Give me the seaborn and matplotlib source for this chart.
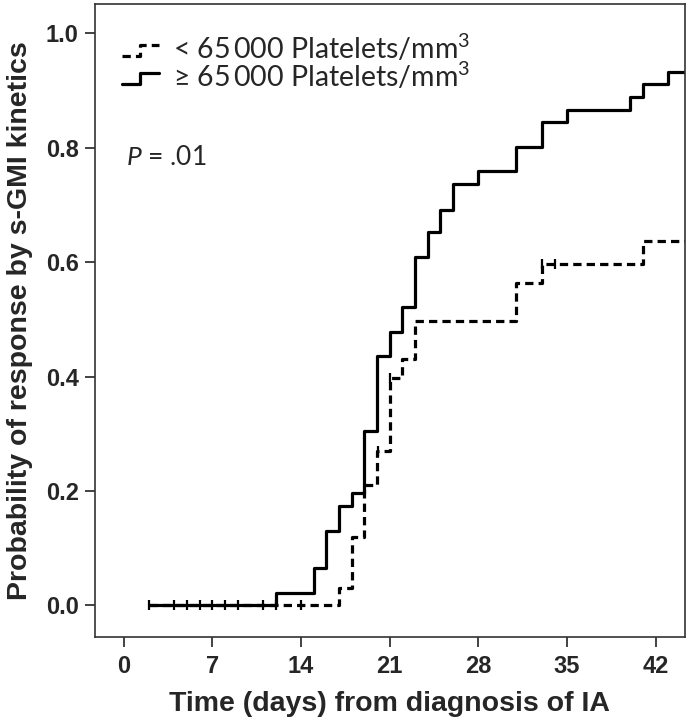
import numpy as np
import pandas as pd
import matplotlib
matplotlib.use("Agg")
import matplotlib.pyplot as plt
import seaborn as sns
from matplotlib.legend_handler import HandlerBase
from matplotlib.lines import Line2D

# ----------- data -----------
hi_days = [2, 12, 15, 16, 17, 18, 19, 20, 21, 22, 23, 24, 25, 26, 28, 31, 33, 35, 40, 41, 43, 45]
hi_prob = [0, 0.022, 0.065, 0.130, 0.174, 0.196, 0.304, 0.435, 0.478, 0.522, 0.609, 0.652,
           0.692, 0.737, 0.759, 0.802, 0.845, 0.867, 0.889, 0.911, 0.933, 0.933]
hi_censored = [2, 4, 5, 6, 7, 8, 9, 11]

lo_days = [2, 17, 18, 19, 20, 21, 22, 23, 31, 33, 41, 45]
lo_prob = [0, 0.030, 0.120, 0.210, 0.270, 0.397, 0.430, 0.497, 0.563, 0.597, 0.637, 0.637]
lo_censored = [12, 14, 20.05, 21, 33.05, 34.05]

x_ticks = [0, 7, 14, 21, 28, 35, 42]
y_ticks = [0.0, 0.2, 0.4, 0.6, 0.8, 1.0]

lo_label = "< 65\u2009000 Platelets/mm$^{3}$"
hi_label = "\u2265 65\u2009000 Platelets/mm$^{3}$"

sns.set_theme(style="white")
plt.rcParams['font.family'] = ['Lato', 'DejaVu Sans']
plt.rcParams['mathtext.fontset'] = 'custom'
plt.rcParams['mathtext.rm'] = 'Lato'
plt.rcParams['mathtext.it'] = 'Lato:italic'
bold_font = ['Liberation Sans', 'DejaVu Sans']


def level_at(days, prob, t):
    idx = np.searchsorted(days, t, side='right') - 1
    return np.array(prob)[idx]


class StepHandler(HandlerBase):
    # little step icon like the SPSS legend
    def create_artists(self, legend, orig_handle, xdescent, ydescent, width, height,
                       fontsize, trans):
        x0 = -xdescent
        xm = x0 + width * 0.5
        lo_y = -ydescent + height * 0.15
        hi_y = -ydescent + height * 0.7
        line = Line2D([x0, xm, xm, x0 + width], [lo_y, lo_y, hi_y, hi_y])
        line.update_from(orig_handle)
        line.set_drawstyle("default")
        line.set_transform(trans)
        return [line]


curves = pd.concat([
    pd.DataFrame({"day": lo_days, "prob": lo_prob, "group": lo_label}),
    pd.DataFrame({"day": hi_days, "prob": hi_prob, "group": hi_label}),
])
cens = pd.concat([
    pd.DataFrame({"day": lo_censored, "prob": level_at(lo_days, lo_prob, lo_censored)}),
    pd.DataFrame({"day": hi_censored, "prob": level_at(hi_days, hi_prob, hi_censored)}),
])

fig = plt.figure(figsize=(6.91, 7.2), dpi=100)
ax = fig.add_axes([0.137, 0.115, 0.854, 0.879])

lo = curves[curves.group == lo_label]
hi = curves[curves.group == hi_label]
sns.lineplot(data=lo, x="day", y="prob", estimator=None, sort=False, drawstyle="steps-post",
             color="black", linewidth=2.3, ax=ax, legend=False)
lo_line = ax.lines[-1]
lo_line.set_dashes((2.6, 1.6))
sns.lineplot(data=hi, x="day", y="prob", estimator=None, sort=False, drawstyle="steps-post",
             color="black", linewidth=2.3, ax=ax, legend=False)
hi_line = ax.lines[-1]
sns.scatterplot(data=cens, x="day", y="prob", marker="|", s=55, color="black",
                linewidth=1.6, ax=ax, zorder=5)

ax.set_xlim(-2.3, 44.3)
ax.set_ylim(-0.056, 1.051)
ax.set_xticks(x_ticks)
ax.set_yticks(y_ticks)
ax.set_yticklabels([f"{v:.1f}" for v in y_ticks])
for lab in ax.get_xticklabels() + ax.get_yticklabels():
    lab.set_family(bold_font)
    lab.set_fontweight("bold")
    lab.set_fontsize(17)
ax.tick_params(axis="both", direction="out", length=7.5, width=1.2, color="#222222",
               bottom=True, left=True, pad=4)
ax.tick_params(axis="x", pad=5)
for sp in ax.spines.values():
    sp.set_color("#333333")
    sp.set_linewidth(1.2)

ax.set_xlabel("Time (days) from diagnosis of IA", family=bold_font, fontweight="bold",
              fontsize=20.5, labelpad=10)
ax.set_ylabel("Probability of response by s-GMI kinetics", family=bold_font,
              fontweight="bold", fontsize=20.5, labelpad=9)

ax.legend([lo_line, hi_line], [lo_label, hi_label],
          handler_map={Line2D: StepHandler()},
          loc="upper left", bbox_to_anchor=(0.046, 0.955), frameon=False, fontsize=20.5,
          handlelength=1.3, handletextpad=0.5, labelspacing=-0.1, borderaxespad=0,
          borderpad=0)
ax.text(0.053, 0.758, "$P$ = .01", transform=ax.transAxes, fontsize=19, va="center")

fig.savefig("out.png", dpi=100)
